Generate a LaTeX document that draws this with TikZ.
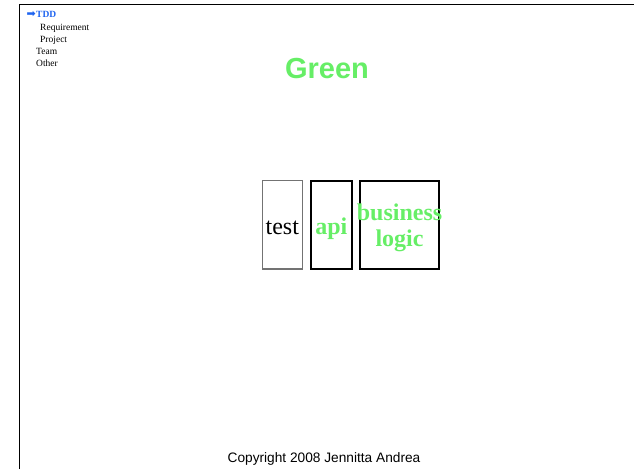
\documentclass[tikz,border=0pt]{standalone}
\usepackage{fontspec}
\setmainfont{Liberation Serif}
\setsansfont{Liberation Sans}
\newfontfamily\symfont{DejaVu Sans}
\definecolor{slidegreen}{RGB}{102,238,102}
\definecolor{menublue}{RGB}{30,100,240}
\begin{document}
\begin{tikzpicture}[x=1pt,y=-1pt,
  menu/.style={anchor=base west,inner sep=0pt,font=\fontsize{9.5}{10}\selectfont},
  boxthin/.style={draw=black!55,line width=1.2pt},
  boxthick/.style={draw=black,line width=1.8pt},
  boxtext/.style={inner sep=0pt,font=\fontsize{24}{26.5}\selectfont,align=center}]
\useasboundingbox (0,0) rectangle (634,469);
% slide frame
\coordinate (fa) at (19.5,469);
\coordinate (fb) at (19.5,4.5);
\coordinate (fc) at (634,4.5);
\draw[line width=1.6pt] (fa) -- (fb) -- (fc);
% menu
\node[menu,text=menublue] (tdd) at (26.5,17.3) {{\symfont\fontsize{11}{11}\selectfont ➡}\kern0.3pt\textbf{TDD}};
\node[menu] (req) at (40,30) {Requirement};
\node[menu] (proj) at (40,42) {Project};
\node[menu] (team) at (36,54) {Team};
\node[menu] (other) at (36,66) {Other};
% title
\node[inner sep=0pt,text=slidegreen,font=\sffamily\bfseries\fontsize{29}{30}\selectfont] (title) at (327,69) {Green};
% boxes
\draw[boxthin] (262.3,180.7) rectangle (302.3,269) coordinate (tb);
\draw[boxthick] (311,180.7) rectangle (351.7,269);
\draw[boxthick] (359.7,180.7) rectangle (439,269);
\node[boxtext,anchor=base] (test) at (282.3,234) {test};
\node[boxtext,anchor=base,text=slidegreen,font=\bfseries\fontsize{24}{26.5}\selectfont] (api) at (331.3,234) {api};
\node[boxtext,anchor=base,text=slidegreen,font=\bfseries\fontsize{24}{26.5}\selectfont] (bl1) at (399.5,220.7) {business};
\node[boxtext,anchor=base,text=slidegreen,font=\bfseries\fontsize{24}{26.5}\selectfont] (bl2) at (399.5,246.7) {logic};
% footer
\node[anchor=base,inner sep=0pt,font=\sffamily\fontsize{13.7}{15}\selectfont] (copy) at (324,462.5) {Copyright 2008 Jennitta Andrea};
\end{tikzpicture}
\end{document}
